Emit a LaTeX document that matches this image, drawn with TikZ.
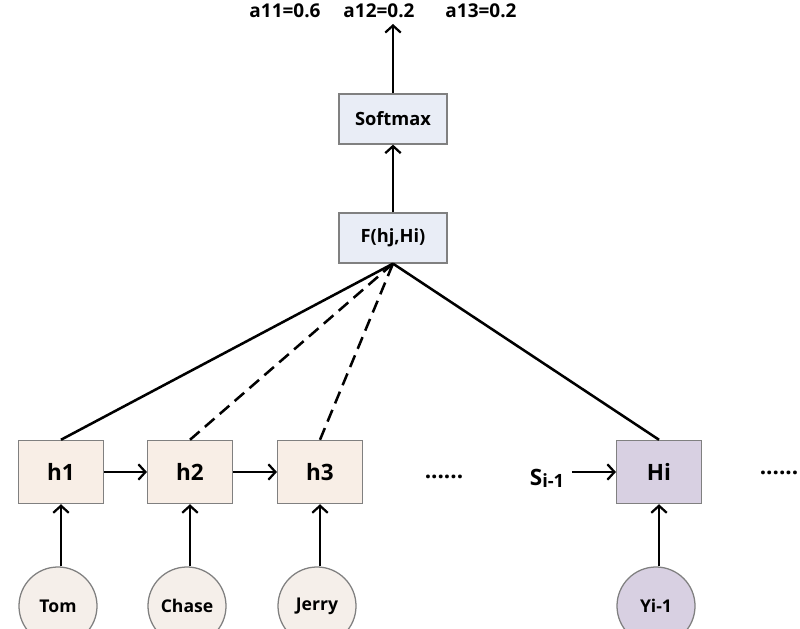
\documentclass[tikz,border=0pt]{standalone}
\usepackage{fontspec}
\setmainfont{Open Sans}
\definecolor{boxblue}{RGB}{233,237,246}
\definecolor{boxsand}{RGB}{248,238,230}
\definecolor{circsand}{RGB}{245,239,234}
\definecolor{boxlila}{RGB}{216,208,226}
\definecolor{edgegray}{RGB}{128,128,128}
\usetikzlibrary{positioning,arrows.meta}
\tikzset{
  conn/.style={-{Straight Barb[length=5pt,width=11pt,line width=1.6pt]}, line width=1.8pt},
  link/.style={line width=1.8pt},
  opbox/.style={draw=edgegray, fill=boxblue, line width=0.9pt, minimum width=2.7cm, minimum height=1.25cm, font=\fontsize{13}{15}\selectfont\bfseries},
  hbox/.style={draw=edgegray, fill=boxsand, line width=0.9pt, minimum width=2.12cm, minimum height=1.58cm, font=\fontsize{16}{18}\selectfont\bfseries},
  word/.style={circle, draw=edgegray, fill=circsand, line width=0.9pt, minimum size=1.95cm, inner sep=0pt, font=\fontsize{12.5}{14}\selectfont\bfseries},
  lbl/.style={font=\fontsize{13.5}{15}\selectfont\bfseries, inner sep=1pt},
}
\begin{document}
\begin{tikzpicture}[x=0.025cm, y=-0.025cm]
\useasboundingbox (0,0) rectangle (800,629);
% weights on top
\node [lbl] (a11) at (285,11) {a11=0.6};
\node [lbl] (a12) at (379,11) {a12=0.2};
\node [lbl] (a13) at (481,11) {a13=0.2};
\coordinate (out) at (393,24);
%
\node [opbox] (softmax) at (393,119) {Softmax};
\node [opbox] (score) at (393,238) {F(hj,Hi)};
%
\node [hbox] (h1) at (61,472) {h1};
\node [hbox] (h2) at (190,472) {h2};
\node [hbox] (h3) at (320,472) {h3};
\node [hbox, fill=boxlila] (hi) at (659,472) {Hi};
\node [lbl, font=\fontsize{16}{18}\selectfont\bfseries] (sprev) at (547,478) {S\raisebox{-1.5pt}{\fontsize{13}{14}\selectfont i-1}};
\node [lbl, font=\fontsize{16}{18}\selectfont\bfseries] (dotsa) at (444,477) {......};
\node [lbl, font=\fontsize{16}{18}\selectfont\bfseries] (dotsb) at (779,473) {......};
%
\node [word] (tom) at (58,606) {Tom};
\node [word] (chase) at (187,606) {Chase};
\node [word] (jerry) at (317,606) {Jerry};
\node [word, fill=boxlila] (yprev) at (656,606) {Yi-1};
%
\draw [conn] (softmax) -- (out);
\draw [conn] (score) -- (softmax);
\draw [link] (h1.north) -- (score.south);
\draw [link, dashed, dash pattern=on 9pt off 5pt] (h2.north) -- (score.south);
\draw [link, dashed, dash pattern=on 9pt off 5pt] (h3.north) -- (score.south);
\draw [link] (hi.north) -- (score.south);
\draw [conn] (h1) -- (h2);
\draw [conn] (h2) -- (h3);
\draw [conn] (sprev.east |- hi.west) ++(6,0) coordinate (sin) -- (hi.west);
\draw [conn] (tom.north -| h1) -- (h1.south);
\draw [conn] (chase.north -| h2) -- (h2.south);
\draw [conn] (jerry.north -| h3) -- (h3.south);
\draw [conn] (yprev.north -| hi) -- (hi.south);
%
\end{tikzpicture}
\end{document}
